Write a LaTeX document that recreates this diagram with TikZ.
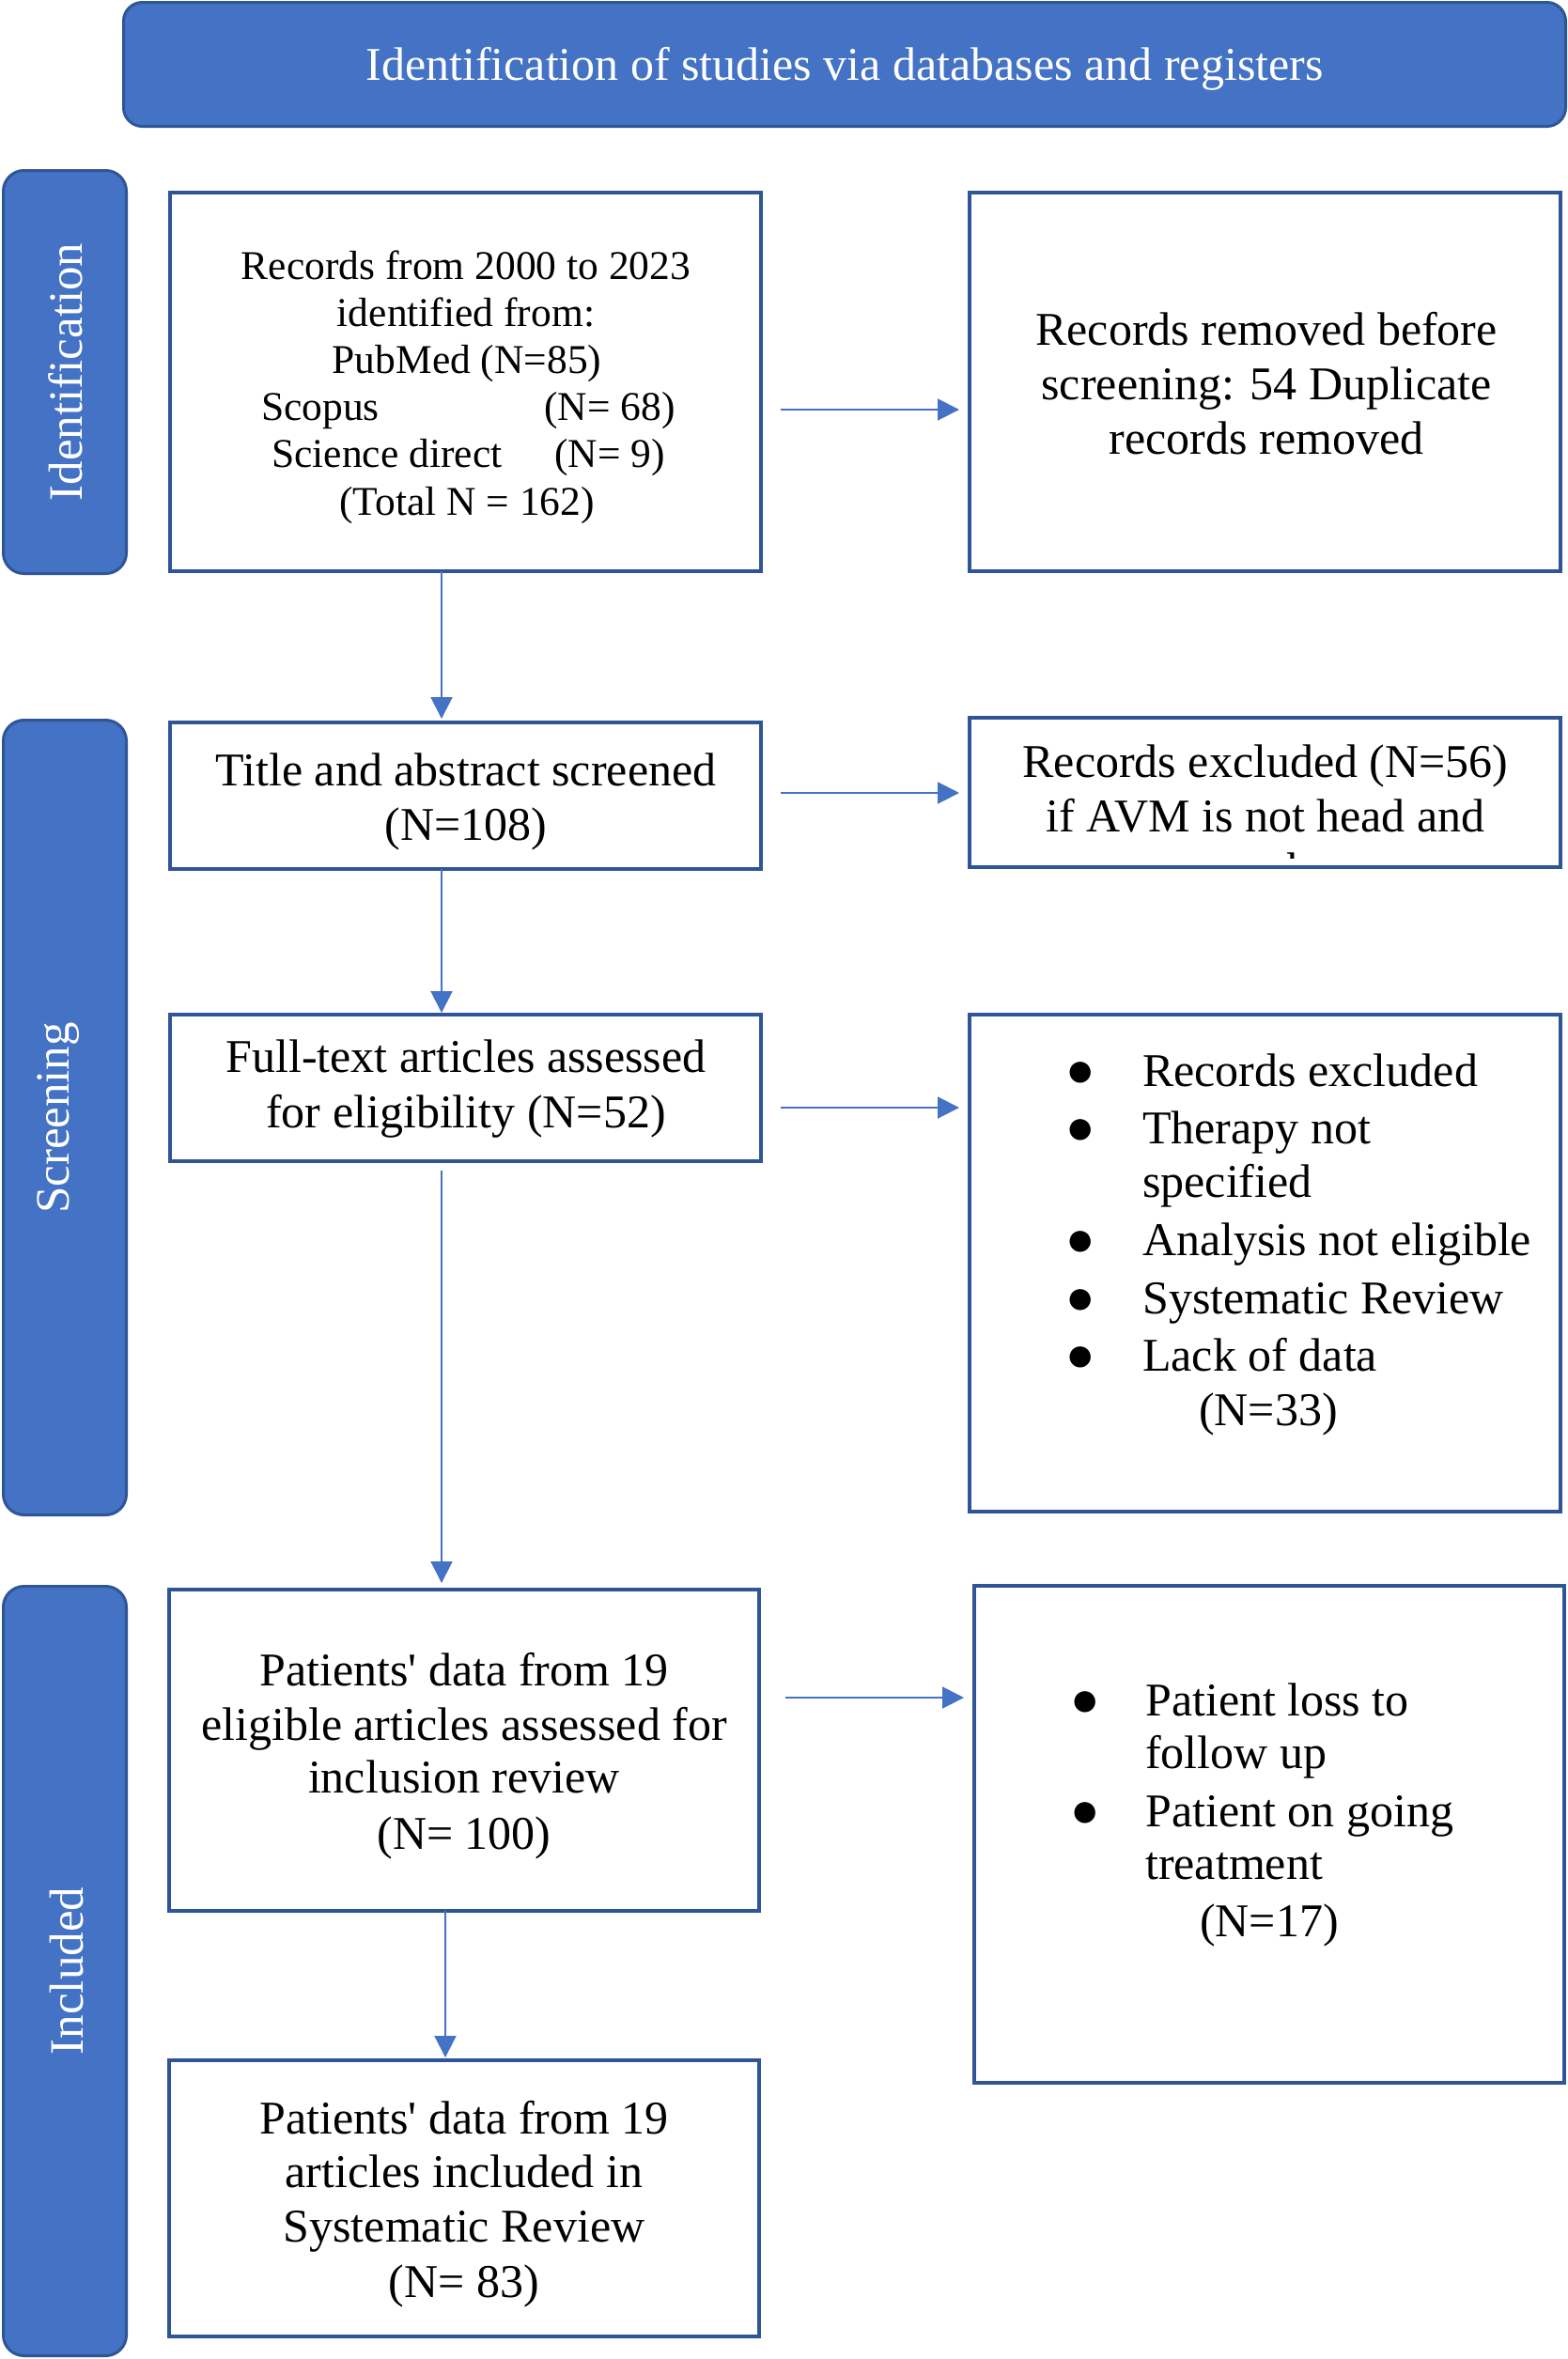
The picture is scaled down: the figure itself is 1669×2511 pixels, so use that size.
\documentclass[tikz,border=0pt]{standalone}
\usepackage{fontspec}
\setmainfont{Liberation Serif}
\usetikzlibrary{arrows.meta}
\definecolor{fillblue}{HTML}{4472C4}
\definecolor{edgeblue}{HTML}{2F5597}
\begin{document}
\begin{tikzpicture}[x=1pt,y=-1pt,
  boxnode/.style={draw=edgeblue, line width=4pt, fill=white, inner sep=0pt, outer sep=0pt},
  sidenode/.style={draw=edgeblue, line width=3pt, fill=fillblue, rounded corners=22pt, inner sep=0pt, outer sep=0pt, minimum width=131pt},
  txt/.style={inner sep=0pt, anchor=base, font=\fontsize{50}{58}\selectfont},
  ltxt/.style={txt, anchor=base west},
  stxt/.style={inner sep=0pt, anchor=base, font=\fontsize{43.5}{50}\selectfont},
  lstxt/.style={stxt, anchor=base west},
  wtxt/.style={txt, text=white},
  bul/.style={inner sep=0pt, anchor=base, font=\fontsize{52}{56}\selectfont},
  arr/.style={draw=fillblue, line width=2pt, -{Triangle[length=23pt,width=23pt]}},
]
\fill[white] (0,0) rectangle (1669,2511);
\useasboundingbox (0,0) rectangle (1669,2511);

% banner and side labels
\node[sidenode, rounded corners=20pt, minimum width=1535pt, minimum height=132pt] (banner) at (899,68.5) {};
\node[wtxt] (bannertxt) at (899,85) {Identification of studies via databases and registers};

\node[sidenode, minimum height=429pt] (sideid) at (69,396) {};
\node[wtxt, rotate=90, font=\fontsize{51}{58}\selectfont] (sideidtxt) at (87,396) {Identification};
\node[sidenode, minimum height=846pt] (sidescr) at (69,1189.5) {};
\node[wtxt, rotate=90, font=\fontsize{51}{58}\selectfont] (sidescrtxt) at (73,1190) {Screening};
\node[sidenode, minimum height=819pt] (sideinc) at (69,2098) {};
\node[wtxt, rotate=90, font=\fontsize{51}{58}\selectfont] (sideinctxt) at (88,2098) {Included};

% boxes
\node[boxnode, minimum width=629pt, minimum height=403pt] (b1) at (495.5,406.5) {};
\node[boxnode, minimum width=629pt, minimum height=403pt] (r1) at (1346.5,406.5) {};
\node[boxnode, minimum width=629pt, minimum height=156pt] (b2) at (495.5,847) {};
\node[boxnode, minimum width=629pt, minimum height=159pt] (r2) at (1346.5,843.5) {};
\node[boxnode, minimum width=629pt, minimum height=156pt] (b3) at (495.5,1158) {};
\node[boxnode, minimum width=629pt, minimum height=529pt] (r3) at (1346.5,1344.5) {};
\node[boxnode, minimum width=628pt, minimum height=342pt] (b4) at (494,1863) {};
\node[boxnode, minimum width=628pt, minimum height=529pt] (r4) at (1351,1952.5) {};
\node[boxnode, minimum width=628pt, minimum height=294pt] (b5) at (494,2340) {};

% box 1 text
\node[stxt] (b1a) at (496,297) {Records from 2000 to 2023};
\node[stxt] (b1b) at (496,347) {identified from:};
\node[stxt] (b1c) at (497,397) {PubMed (N=85)};
\node[lstxt] (b1d) at (278,447) {Scopus};
\node[lstxt] (b1e) at (579,447) {(N= 68)};
\node[lstxt] (b1f) at (289,497) {Science direct};
\node[lstxt] (b1g) at (590,497) {(N= 9)};
\node[stxt] (b1h) at (497,548) {(Total N = 162)};

% right box 1
\node[txt] (r1a) at (1348,367) {Records removed before};
\node[txt] (r1b) at (1348,425) {screening: 54 Duplicate};
\node[txt] (r1c) at (1348,483) {records removed};

% box 2
\node[txt] (b2a) at (496,836) {Title and abstract screened};
\node[txt] (b2b) at (496,894) {(N=108)};

% right box 2 (last line cut off by the box)
\node[txt] (r2a) at (1347,827) {Records excluded (N=56)};
\node[txt] (r2b) at (1347,885) {if AVM is not head and};
\begin{scope}
\clip (1034,766) rectangle (1659,913);
\node[txt] (r2c) at (1347,942) {neck};
\end{scope}

% box 3
\node[txt] (b3a) at (496,1141) {Full-text articles assessed};
\node[txt] (b3b) at (496,1200) {for eligibility (N=52)};

% right box 3
\node[bul] (r3bul1) at (1150,1156) {●};
\node[ltxt] (r3a) at (1216,1156) {Records excluded};
\node[bul] (r3bul2) at (1150,1217) {●};
\node[ltxt] (r3b) at (1216,1217) {Therapy not};
\node[ltxt] (r3c) at (1216,1274) {specified};
\node[bul] (r3bul3) at (1150,1336) {●};
\node[ltxt] (r3d) at (1216,1336) {Analysis not eligible};
\node[bul] (r3bul4) at (1150,1398) {●};
\node[ltxt] (r3e) at (1216,1398) {Systematic Review};
\node[bul] (r3bul5) at (1150,1459) {●};
\node[ltxt] (r3f) at (1216,1459) {Lack of data};
\node[ltxt] (r3g) at (1276,1517) {(N=33)};

% box 4
\node[txt] (b4a) at (494,1794) {Patients\textquotesingle{} data from 19};
\node[txt] (b4b) at (494,1852) {eligible articles assessed for};
\node[txt] (b4c) at (494,1908) {inclusion review};
\node[txt] (b4d) at (494,1968) {(N= 100)};

% right box 4
\node[bul] (r4bul1) at (1155,1826) {●};
\node[ltxt] (r4a) at (1219,1826) {Patient loss to};
\node[ltxt] (r4b) at (1219,1882) {follow up};
\node[bul] (r4bul2) at (1155,1944) {●};
\node[ltxt] (r4c) at (1219,1944) {Patient on going};
\node[ltxt] (r4d) at (1219,2000) {treatment};
\node[ltxt] (r4e) at (1277,2061) {(N=17)};

% box 5
\node[txt] (b5a) at (494,2271) {Patients\textquotesingle{} data from 19};
\node[txt] (b5b) at (494,2328) {articles included in};
\node[txt] (b5c) at (494,2386) {Systematic Review};
\node[txt] (b5d) at (494,2445) {(N= 83)};

% connectors
\draw[arr, shorten <=21pt, shorten >=11pt] (b1.east |- 0,436) -- (r1.west |- 0,436);
\draw[arr, shorten <=21pt, shorten >=11pt] (b2.east |- 0,844) -- (r2.west |- 0,844);
\draw[arr, shorten <=21pt, shorten >=11pt] (b3.east |- 0,1179) -- (r3.west |- 0,1179);
\draw[arr, shorten <=28pt, shorten >=11pt] (b4.east |- 0,1807) -- (r4.west |- 0,1807);
\draw[arr, shorten >=4pt] (470,0 |- b1.south) -- (470,0 |- b2.north);
\draw[arr, shorten >=2pt] (470,0 |- b2.south) -- (470,0 |- b3.north);
\draw[arr, shorten <=10pt, shorten >=7pt] (470,0 |- b3.south) -- (470,0 |- b4.north);
\draw[arr, shorten >=3pt] (474,0 |- b4.south) -- (474,0 |- b5.north);
\end{tikzpicture}
\end{document}
